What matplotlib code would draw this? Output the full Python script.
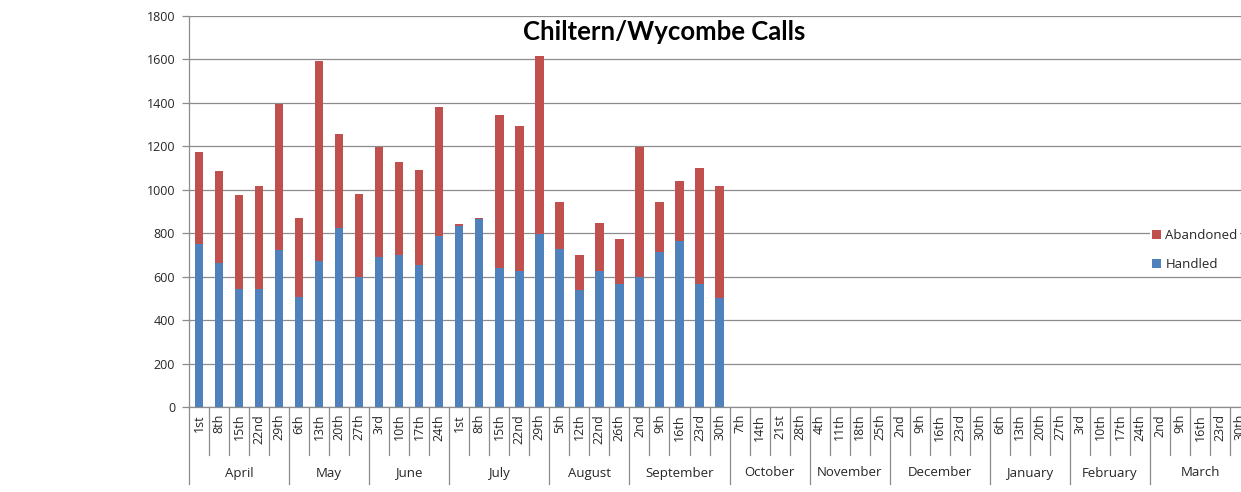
import matplotlib
matplotlib.use("Agg")
import matplotlib.pyplot as plt
import numpy as np

plt.rcParams['font.family'] = ['Open Sans', 'DejaVu Sans']

months = ["April", "May", "June", "July", "August", "September",
          "October", "November", "December", "January", "February", "March"]
month_days = [
    ["1st", "8th", "15th", "22nd", "29th"],
    ["6th", "13th", "20th", "27th"],
    ["3rd", "10th", "17th", "24th"],
    ["1st", "8th", "15th", "22nd", "29th"],
    ["5th", "12th", "22nd", "26th"],
    ["2nd", "9th", "16th", "23rd", "30th"],
    ["7th", "14th", "21st", "28th"],
    ["4th", "11th", "18th", "25th"],
    ["2nd", "9th", "16th", "23rd", "30th"],
    ["6th", "13th", "20th", "27th"],
    ["3rd", "10th", "17th", "24th"],
    ["2nd", "9th", "16th", "23rd", "30th"],
]

handled = [752, 662, 545, 545, 722,
           508, 671, 826, 597,
           692, 698, 654, 789,
           834, 865, 640, 626, 797,
           729, 537, 626, 566,
           597, 715, 766, 566, 500]
abandoned = [420, 423, 429, 473, 673,
             361, 924, 429, 383,
             503, 430, 438, 593,
             8, 4, 703, 666, 821,
             214, 161, 222, 206,
             598, 228, 274, 534, 518]

title = "Chiltern/Wycombe Calls"
blue = "#4F81BD"
red = "#C0504D"
grid_c = "#8C8C8C"
text_c = "#262626"

W, H = 1241, 492
fig = plt.figure(figsize=(W / 100, H / 100), dpi=100)

ncat = sum(len(d) for d in month_days)
left_px, top_px, bottom_px = 189, 16, 407
cat_w = 20.02
right_px = left_px + ncat * cat_w
ax_h_px = bottom_px - top_px
ax = fig.add_axes([left_px / W, (H - bottom_px) / H,
                   (right_px - left_px) / W, ax_h_px / H])

x = np.arange(len(handled))
ax.bar(x, handled, width=0.42, color=blue, label="Handled", zorder=3)
ax.bar(x, abandoned, width=0.42, bottom=handled, color=red,
       label="Abandoned", zorder=3)

ax.set_xlim(-0.5, ncat - 0.5)
ax.set_ylim(0, 1800)
ax.set_yticks(np.arange(0, 1801, 200))
ax.yaxis.grid(True, color=grid_c, linewidth=0.9, zorder=0)
ax.set_axisbelow(True)
for s in ["top", "right"]:
    ax.spines[s].set_visible(False)
ax.spines["left"].set_color(grid_c)
ax.spines["bottom"].set_color(grid_c)
ax.spines["left"].set_linewidth(0.9)
ax.spines["bottom"].set_linewidth(0.9)
ax.tick_params(axis="y", direction="out", length=5, width=0.9,
               color=grid_c, labelsize=9, pad=5, labelcolor=text_c)
ax.set_xticks([])

# multi-level category axis
trans = ax.get_xaxis_transform()
day_line_y = -(455 - bottom_px) / ax_h_px
month_line_y = -(484 - bottom_px) / ax_h_px
day_text_y = -(414 - bottom_px) / ax_h_px
month_text_y = -(473 - bottom_px) / ax_h_px

idx = 0
month_edges = [0]
for m, days in zip(months, month_days):
    for d in days:
        ax.text(idx, day_text_y, d, transform=trans, rotation=90,
                ha="center", va="top", fontsize=9, color=text_c,
                clip_on=False)
        idx += 1
    month_edges.append(idx)
    start = month_edges[-2]
    ax.text((start + idx - 1) / 2, month_text_y, m, transform=trans,
            ha="center", va="center", fontsize=9.5, color=text_c,
            clip_on=False)

for k in range(ncat + 1):
    ylow = month_line_y if k in month_edges else day_line_y
    ax.plot([k - 0.5, k - 0.5], [0, ylow], transform=trans, color=grid_c,
            linewidth=0.9, clip_on=False)

fig.text(664 / W, (H - 32) / H, title, ha="center", va="center",
         fontsize=18.5, fontweight="bold", family=["Lato", "DejaVu Sans"])

h, l = ax.get_legend_handles_labels()
leg = fig.legend([h[1], h[0]], [l[1], l[0]], loc="center left",
                 bbox_to_anchor=(1143 / W, (H - 250) / H), frameon=True,
                 handlelength=0.7, handleheight=0.7,
                 handletextpad=0.3, labelspacing=1.25, borderpad=0.2,
                 prop={"size": 9.5, "family": ["Open Sans", "DejaVu Sans"]})
for t in leg.get_texts():
    t.set_color(text_c)
leg.get_frame().set_facecolor("white")
leg.get_frame().set_edgecolor("none")
leg.get_frame().set_alpha(1)

fig.savefig("out.png", dpi=100)
